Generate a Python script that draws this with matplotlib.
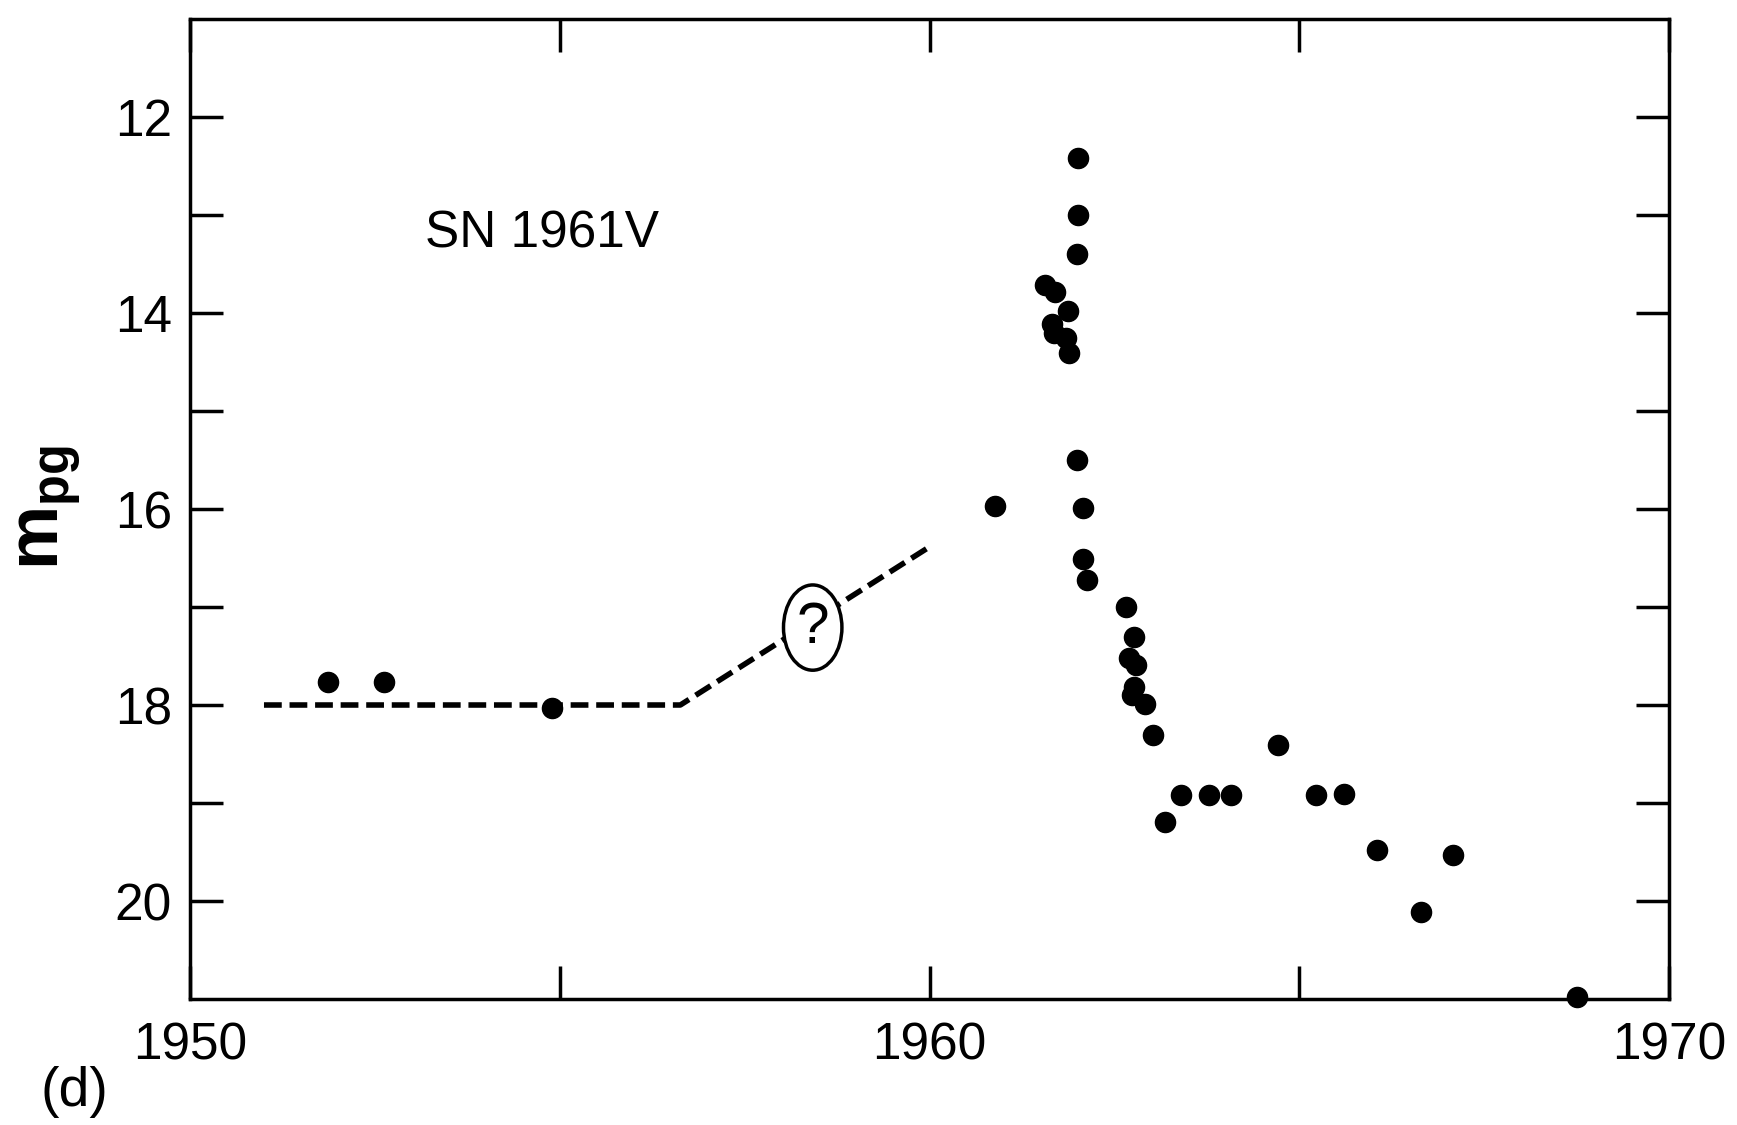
import matplotlib.pyplot as plt
from matplotlib.patches import Ellipse

plt.rcParams['font.family'] = ['Liberation Sans', 'DejaVu Sans']
plt.rcParams['mathtext.fontset'] = 'custom'
plt.rcParams['mathtext.rm'] = 'Liberation Sans'
plt.rcParams['mathtext.bf'] = 'Liberation Sans:bold'

# photographic magnitudes of SN 1961V (year, m_pg)
years = [1951.86, 1952.62, 1954.89,
         1960.89,
         1961.56, 1961.70, 1961.87, 1961.66, 1961.68, 1961.85, 1961.88,
         1962.01, 1962.01, 1962.00, 1962.00, 1962.07, 1962.08, 1962.13,
         1962.65, 1962.76, 1962.70, 1962.79, 1962.76, 1962.74, 1962.91,
         1963.02, 1963.18, 1963.40, 1963.78, 1964.08,
         1964.71, 1965.23, 1965.61,
         1966.05, 1966.64, 1967.08, 1968.76]
mags = [17.77, 17.77, 18.03,
        15.97,
        13.71, 13.79, 13.98, 14.11, 14.20, 14.26, 14.41,
        12.42, 13.00, 13.40, 15.50, 15.99, 16.51, 16.72,
        17.00, 17.31, 17.52, 17.59, 17.82, 17.90, 17.99,
        18.31, 19.19, 18.92, 18.92, 18.92,
        18.41, 18.92, 18.91,
        19.48, 20.11, 19.53, 20.98]

# assumed pre-outburst trend (dashed)
trend_years = [1951.0, 1956.63, 1959.97]
trend_mags = [18.0, 18.0, 16.40]

xtick_pos = [1950, 1955, 1960, 1965, 1970]
xtick_lab = ['1950', '', '1960', '', '1970']
ytick_pos = list(range(12, 21))
ytick_lab = [str(v) if v % 2 == 0 else '' for v in ytick_pos]

fig = plt.figure(figsize=(17.37, 11.25), dpi=100)
ax = fig.add_axes([0.1094, 0.112, 0.8515, 0.8711])

ax.plot(trend_years, trend_mags, color='black', lw=4, dashes=(3.2, 1.4),
        zorder=2)
ax.add_patch(Ellipse((1958.42, 17.21), 0.79, 0.87, facecolor='white',
                     edgecolor='black', lw=2.5, zorder=3))
ax.text(1958.42, 17.21, '?', fontsize=42, ha='center', va='center', zorder=4)

ax.plot(years, mags, 'o', color='black', ms=14.5, clip_on=False, zorder=5)

ax.text(1953.18, 13.33, 'SN 1961V', fontsize=37, ha='left', va='baseline')

ax.set_xlim(1950, 1970)
ax.set_ylim(21, 11)
ax.set_xticks(xtick_pos)
ax.set_xticklabels(xtick_lab)
ax.set_yticks(ytick_pos)
ax.set_yticklabels(ytick_lab)
ax.tick_params(direction='in', length=24, width=2.5, top=True, right=True,
               labelsize=37)
ax.tick_params(axis='x', pad=16)
ax.tick_params(axis='y', pad=13)
for s in ax.spines.values():
    s.set_linewidth(2.5)

fig.text(50 / 1737, 1 - 507 / 1125, r'$\mathbf{m}_{\mathbf{pg}}$',
         rotation=90, fontsize=52, ha='center', va='center')
fig.text(40 / 1737, 1 - 1092 / 1125, '(d)', fontsize=40, ha='left',
         va='center')

fig.savefig('out.png', dpi=100, facecolor='white')
